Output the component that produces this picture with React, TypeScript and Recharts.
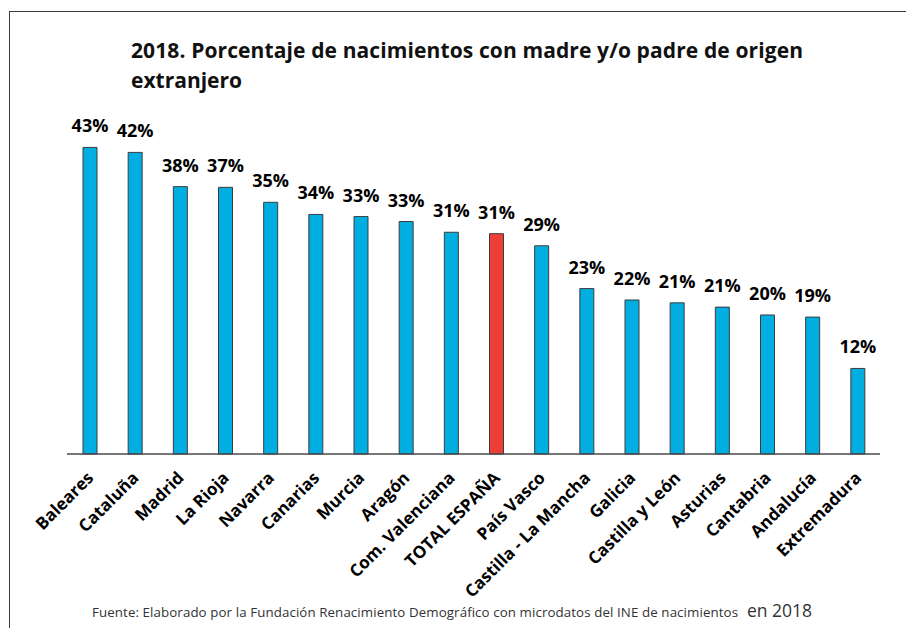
import React from "react";
import { BarChart, Bar, XAxis, YAxis, Cell, LabelList } from "recharts";

const categories = [
  "Baleares", "Cataluña", "Madrid", "La Rioja", "Navarra", "Canarias", "Murcia", "Aragón",
  "Com. Valenciana", "TOTAL ESPAÑA", "País Vasco", "Castilla - La Mancha", "Galicia",
  "Castilla y León", "Asturias", "Cantabria", "Andalucía", "Extremadura",
];
const values = [43.0, 42.3, 37.5, 37.4, 35.3, 33.6, 33.3, 32.6, 31.1, 30.9, 29.2, 23.2, 21.6, 21.2, 20.6, 19.5, 19.2, 12.0];
const highlight = "TOTAL ESPAÑA";
const titleLines = ["2018. Porcentaje de nacimientos con madre y/o padre de origen", "extranjero"];
const footerMain = "Fuente: Elaborado por la Fundación Renacimiento Demográfico con microdatos del INE de nacimientos";
const footerTail = "en 2018";

const data = categories.map((name, i) => ({ name, value: values[i] }));

const FONT = "'Open Sans', 'DejaVu Sans', sans-serif";
const BLUE = "#00AEE2";
const RED = "#EF3E36";

const Tick = (props: any) => {
  const { x, y, payload } = props;
  return (
    <g transform={`translate(${x + 5},${y + 25})`}>
      <text
        x={0}
        y={0}
        transform="rotate(-45)"
        textAnchor="end"
        fontFamily={FONT}
        fontWeight={700}
        fontSize={17}
        fill="#000"
      >
        {payload.value}
      </text>
    </g>
  );
};

export default function App() {
  return (
    <div style={{ position: "absolute", left: 0, top: 0, width: 906, height: 628, background: "#fff", overflow: "hidden" }}>
      <div
        style={{
          position: "absolute",
          left: 9,
          top: 11,
          width: 920,
          height: 640,
          borderLeft: "1.5px solid #3a3a3a",
          borderTop: "1.5px solid #3a3a3a",
        }}
      />
      <div style={{ position: "absolute", left: 0, top: 0 }}>
        <BarChart
          width={906}
          height={628}
          data={data}
          margin={{ top: 97.5, right: 26, left: 67, bottom: 0 }}
          barCategoryGap="34%"
        >
          <XAxis
            dataKey="name"
            interval={0}
            height={174}
            tickLine={false}
            tickSize={0}
            tickMargin={0}
            axisLine={{ stroke: "#4a4a4a", strokeWidth: 1.5 }}
            tick={<Tick />}
          />
          <YAxis hide domain={[0, 50]} />
          <Bar dataKey="value" barSize={14} stroke="#3c3c3c" strokeWidth={1} isAnimationActive={false}>
            {data.map((d) => (
              <Cell key={d.name} fill={d.name === highlight ? RED : BLUE} />
            ))}
            <LabelList
              dataKey="value"
              position="top"
              offset={15}
              formatter={(v: any) => `${Math.round(Number(v))}%`}
              style={{ fontFamily: FONT, fontWeight: 700, fontSize: 18, fill: "#000" }}
            />
          </Bar>
        </BarChart>
      </div>
      <svg width={906} height={628} style={{ position: "absolute", left: 0, top: 0, pointerEvents: "none" }}>
        <text x={131} y={57.5} fontFamily={FONT} fontWeight={700} fontSize={21} fill="#111" textLength={672} lengthAdjust="spacing">
          {titleLines[0]}
        </text>
        <text x={131} y={88} fontFamily={FONT} fontWeight={700} fontSize={21} fill="#111">
          {titleLines[1]}
        </text>
        <text x={92} y={617} fontFamily={FONT} fontSize={13.3} fill="#333" textLength={646} lengthAdjust="spacing">
          {footerMain}
        </text>
        <text x={747} y={617} fontFamily={FONT} fontSize={17.5} fill="#333">
          {footerTail}
        </text>
      </svg>
    </div>
  );
}
